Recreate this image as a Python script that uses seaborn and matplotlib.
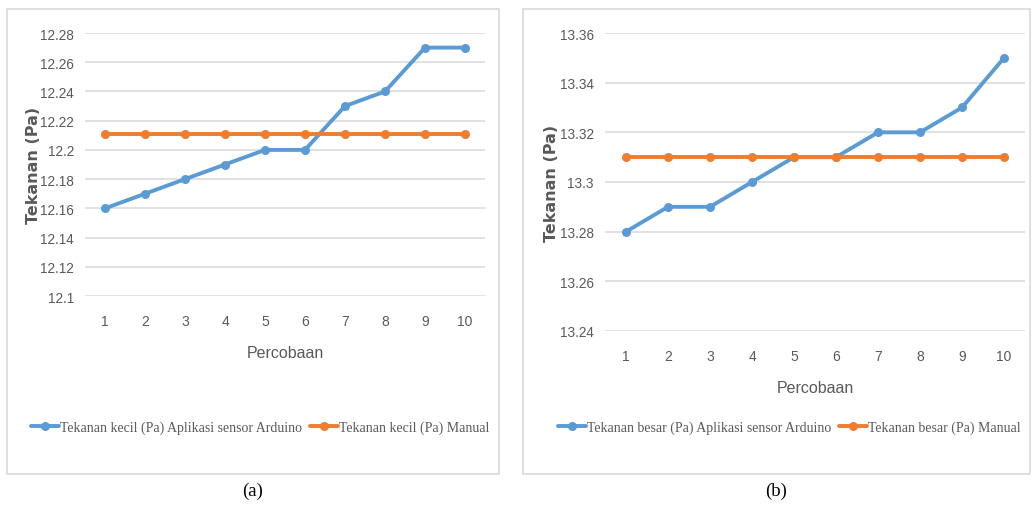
import matplotlib
matplotlib.use("Agg")
import matplotlib.pyplot as plt
from matplotlib.patches import Rectangle
import pandas as pd
import seaborn as sns

percobaan = [1, 2, 3, 4, 5, 6, 7, 8, 9, 10]

kecil_arduino = [12.16, 12.17, 12.18, 12.19, 12.20, 12.20, 12.23, 12.24, 12.27, 12.27]
kecil_manual = [12.211] * 10
besar_arduino = [13.28, 13.29, 13.29, 13.30, 13.31, 13.31, 13.32, 13.32, 13.33, 13.35]
besar_manual = [13.31] * 10

kecil_yticks = [12.1, 12.12, 12.14, 12.16, 12.18, 12.2, 12.22, 12.24, 12.26, 12.28]
besar_yticks = [13.24, 13.26, 13.28, 13.3, 13.32, 13.34, 13.36]

BLUE = "#5B9BD5"
ORANGE = "#ED7D31"
GREY = "#595959"
TICK_FONT = ["Liberation Sans", "DejaVu Sans"]
SERIF = ["Liberation Serif", "DejaVu Serif"]

sns.set_theme(style="white")
plt.rcParams["font.family"] = ["Liberation Sans", "DejaVu Sans"]

fig = plt.figure(figsize=(10.33, 5.06), dpi=100)


def make_panel(rect, box, arduino, manual, yticks, label_a, label_m, caption,
               xlabel_y, legend_xy, ylabel_x):
    # panel border like the Excel chart frame
    fig.add_artist(Rectangle((box[0], box[1]), box[2], box[3], transform=fig.transFigure,
                             fill=False, edgecolor="#D9D9D9", linewidth=1.2))
    ax = fig.add_axes(rect)
    df = pd.DataFrame({
        "Percobaan": percobaan * 2,
        "Tekanan": arduino + manual,
        "seri": [label_a] * 10 + [label_m] * 10,
    })
    sns.lineplot(data=df, x="Percobaan", y="Tekanan", hue="seri",
                 palette=[BLUE, ORANGE], marker="o", markersize=6.5,
                 markeredgewidth=0, linewidth=2.8, ax=ax, legend=False)
    ax.set_xlim(0.5, 10.5)
    ax.set_ylim(yticks[0], yticks[-1])
    ax.set_yticks(yticks)
    ax.set_yticklabels([f"{v:g}" for v in yticks], color=GREY, fontsize=9.8,
                       family=TICK_FONT)
    ax.set_xticks(percobaan)
    ax.set_xticklabels([str(p) for p in percobaan], color=GREY, fontsize=10,
                       family=TICK_FONT)
    ax.tick_params(axis="x", length=0, pad=13)
    ax.tick_params(axis="y", length=0, pad=8)
    ax.grid(axis="y", color="#D9D9D9", linewidth=1.1)
    ax.set_axisbelow(True)
    for s in ax.spines.values():
        s.set_visible(False)
    ax.set_xlabel("")
    ax.set_ylabel("")
    fig.text(rect[0] + rect[2] / 2, xlabel_y, "Percobaan", ha="center", va="center",
             color=GREY, fontsize=11.5, family=TICK_FONT)
    fig.text(ylabel_x, rect[1] + rect[3] / 2, "Tekanan (Pa)", rotation=90,
             ha="center", va="center", color=GREY, fontsize=11.5,
             fontweight="semibold", family=["DejaVu Sans"])
    handles = [
        plt.Line2D([], [], color=BLUE, linewidth=2.8, marker="o", markersize=6.5,
                   markeredgewidth=0),
        plt.Line2D([], [], color=ORANGE, linewidth=2.8, marker="o", markersize=6.5,
                   markeredgewidth=0),
    ]
    ax.legend(handles, [label_a, label_m], loc="center", ncol=2,
              bbox_to_anchor=legend_xy, bbox_transform=fig.transFigure,
              frameon=False, handlelength=2.0, handletextpad=0.05,
              columnspacing=0.6, prop={"family": SERIF, "size": 10},
              labelcolor=GREY)
    fig.text(box[0] + box[2] / 2, 0.028, caption, ha="center", va="center",
             fontsize=13.5, family=SERIF, color="black")
    return ax


make_panel([0.0823, 0.4130, 0.3872, 0.5198], [0.0068, 0.0613, 0.4763, 0.9190],
           kecil_arduino, kecil_manual, kecil_yticks,
           "Tekanan kecil (Pa) Aplikasi sensor Arduino", "Tekanan kecil (Pa) Manual",
           "(a)", 1 - 354 / 506, (0.252, 1 - 428 / 506), 0.032)

make_panel([0.5857, 0.3439, 0.4066, 0.5889], [0.5063, 0.0613, 0.4908, 0.9190],
           besar_arduino, besar_manual, besar_yticks,
           "Tekanan besar (Pa) Aplikasi sensor Arduino", "Tekanan besar (Pa) Manual",
           "(b)", 1 - 389 / 506, (0.764, 1 - 428 / 506), 0.534)

fig.savefig("out.png", dpi=100, facecolor="white")
